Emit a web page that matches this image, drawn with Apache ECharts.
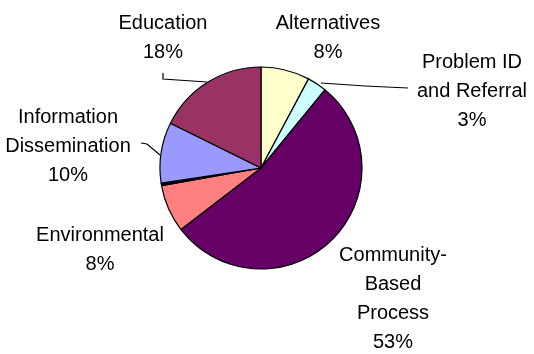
<!DOCTYPE html>
<html>
<head>
<meta charset="utf-8">
<script src="https://cdn.jsdelivr.net/npm/echarts@6/dist/echarts.min.js"></script>
<style>html,body{margin:0;padding:0;background:#fff}#c{width:534px;height:354px}</style>
</head>
<body>
<div id="c"></div>
<script>
var categories = ['Alternatives', 'Problem ID\nand Referral', 'Community-\nBased\nProcess', 'Environmental', 'Other', 'Information\nDissemination', 'Education'];
var values = [7.8, 3.1, 53.7, 7.6, 0.4, 9.7, 17.7];
var pctLabels = ['8%', '3%', '53%', '8%', '', '10%', '18%'];
var colors = ['#FFFFCC', '#CCFFFF', '#660066', '#FF8080', '#000000', '#9999FF', '#993366'];

var labelPos = [[328, 38], [472, 91], [393, 299], [100, 250], null, [68, 146], [163, 38]];
var leaders = [null, [[321, 83], [365, 86], [408, 88]], null, null, null, [[160, 155], [147, 144], [141, 143]], [[207, 82], [163, 79], [163, 73]]];

var data = categories.map(function (c, i) {
  return {
    name: c,
    value: values[i],
    itemStyle: { color: colors[i] },
    label: { show: pctLabels[i] !== '', formatter: c + '\n' + pctLabels[i] },
    labelLine: { show: !!leaders[i] }
  };
});

var chart = echarts.init(document.getElementById('c'), null, { renderer: 'canvas' });
chart.setOption({
  animation: false,
  backgroundColor: '#fff',
  series: [{
    type: 'pie',
    center: [261, 168],
    radius: 101,
    startAngle: 90,
    clockwise: true,
    avoidLabelOverlap: false,
    data: data,
    itemStyle: { borderColor: '#000', borderWidth: 1.2 },
    label: {
      position: 'outside',
      color: '#000',
      fontFamily: 'Liberation Sans, Arial, sans-serif',
      fontSize: 20,
      lineHeight: 29,
      align: 'center'
    },
    labelLine: { lineStyle: { color: '#000', width: 1.2 }, length: 10, length2: 10 },
    emphasis: { disabled: true }
  }]
});
chart.setOption({
  series: [{
    labelLayout: function (p) {
      var i = p.dataIndex;
      var pos = labelPos[i];
      if (!pos) return {};
      var o = { x: pos[0], y: pos[1], align: 'center', verticalAlign: 'middle' };
      if (leaders[i]) o.labelLinePoints = leaders[i];
      return o;
    }
  }]
});
</script>
</body>
</html>
